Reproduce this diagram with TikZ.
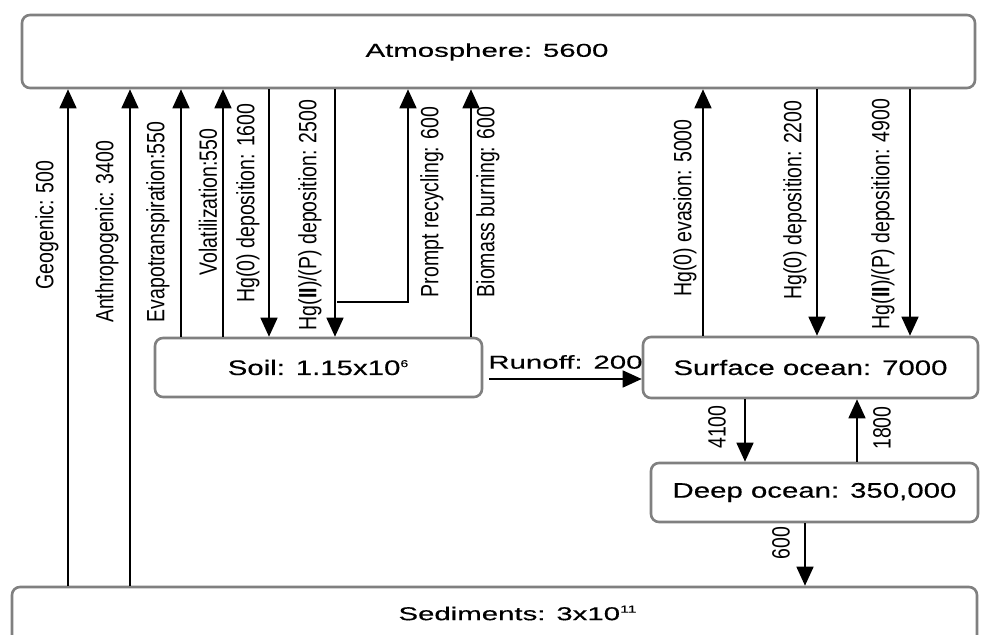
\documentclass[tikz,border=0pt]{standalone}
\usepackage{fontspec}
\setmainfont{Liberation Sans}
\newfontfamily\atmfont[FakeStretch=1.58, FakeBold=0.4]{Liberation Sans}
\newfontfamily\boxfont[FakeStretch=1.4, FakeBold=0.4]{Liberation Sans}
\newfontfamily\flowfont[FakeStretch=0.78]{Liberation Sans}
\newcommand\tinysup[1]{\textsuperscript{\fontsize{5}{5}\selectfont #1}}
\usetikzlibrary{arrows.meta}

\begin{document}
\begin{tikzpicture}[x=0.5pt, y=-0.5pt,
    box/.style={draw=black!50, line width=1.3pt, rounded corners=4pt, fill=white},
    flow/.style={line width=0.8pt, -{Triangle[length=9.5pt, width=8.5pt]}},
    wide/.style={font=\atmfont\fontsize{9.3}{11}\selectfont},
    boxtext/.style={font=\boxfont\fontsize{10.5}{12}\selectfont},
    lbl/.style={rotate=90, inner sep=0pt, font=\flowfont\fontsize{12.5}{14}\selectfont}]
    \clip (0,0) rectangle (982,635);
    % reservoirs
    \node[box, minimum width=476.5pt, minimum height=36.5pt] (atm) at (498.5,51.5) {};
    \node[wide] (atmtext) at (487,52) {Atmosphere: 5600};
    \node[box, boxtext, minimum width=163.5pt, minimum height=29.5pt] (soil) at (318.5,367.5) {Soil: 1.15x10\tinysup{6}};
    \node[box, boxtext, minimum width=167.5pt, minimum height=30.5pt] (surf) at (810.5,367.5) {Surface ocean: 7000};
    \node[box, boxtext, minimum width=163.5pt, minimum height=29.5pt] (deep) at (814.5,492.5) {Deep ocean: 350,000};
    \node[box, minimum width=482.5pt, minimum height=29pt] (sed) at (494.5,616) {};
    \node[wide] (sedtext) at (518,613) {Sediments: 3x10\tinysup{11}};
    % fluxes going up
    \foreach \x/\a/\b in {68/sed/atm, 130/sed/atm, 181/soil/atm, 223/soil/atm, 471/soil/atm, 703/surf/atm, 857/deep/surf} {
        \draw[flow] (\x,0 |- \a.north) -- (\x,0 |- \b.south);
    }
    % fluxes going down
    \foreach \x/\a/\b in {269/atm/soil, 335/atm/soil, 817/atm/surf, 910/atm/surf, 745/surf/deep, 805/deep/sed} {
        \draw[flow] (\x,0 |- \a.south) -- (\x,0 |- \b.north);
    }
    \draw[flow] (337,302) -| (408,0 |- atm.south);
    \draw[flow] ([xshift=3pt, yshift=-5.75pt]soil.east) -- ([yshift=-5.75pt]surf.west);
    % flux labels
    \node[lbl] (lgeo) at (47,225) {Geogenic: 500};
    \node[lbl] (lanthro) at (107,232) {Anthropogenic: 3400};
    \node[lbl] (levapo) at (158,222) {Evapotranspiration:550};
    \node[lbl] (lvolat) at (208,202) {Volatilization:550};
    \node[lbl] (ldepa) at (248,203) {Hg(0) deposition: 1600};
    \node[lbl] (ldepb) at (310,215) {Hg(\textbf{II})/(P) deposition: 2500};
    \node[lbl] (lprompt) at (432,202) {Prompt recycling: 600};
    \node[lbl] (lbiomass) at (488,202) {Biomass burning: 600};
    \node[lbl] (levasion) at (685,208) {Hg(0) evasion: 5000};
    \node[lbl] (ldepc) at (795,200) {Hg(0) deposition: 2200};
    \node[lbl] (ldepd) at (883,214) {Hg(\textbf{II})/(P) deposition: 4900};
    \node[lbl] (ldown) at (717,427) {4100};
    \node[lbl] (lup) at (882,428) {1800};
    \node[lbl] (lburial) at (781,543) {600};
    \node[wide, anchor=west, inner sep=0pt] (runoff) at (488,362) {Runoff: 200};
\end{tikzpicture}
\end{document}
